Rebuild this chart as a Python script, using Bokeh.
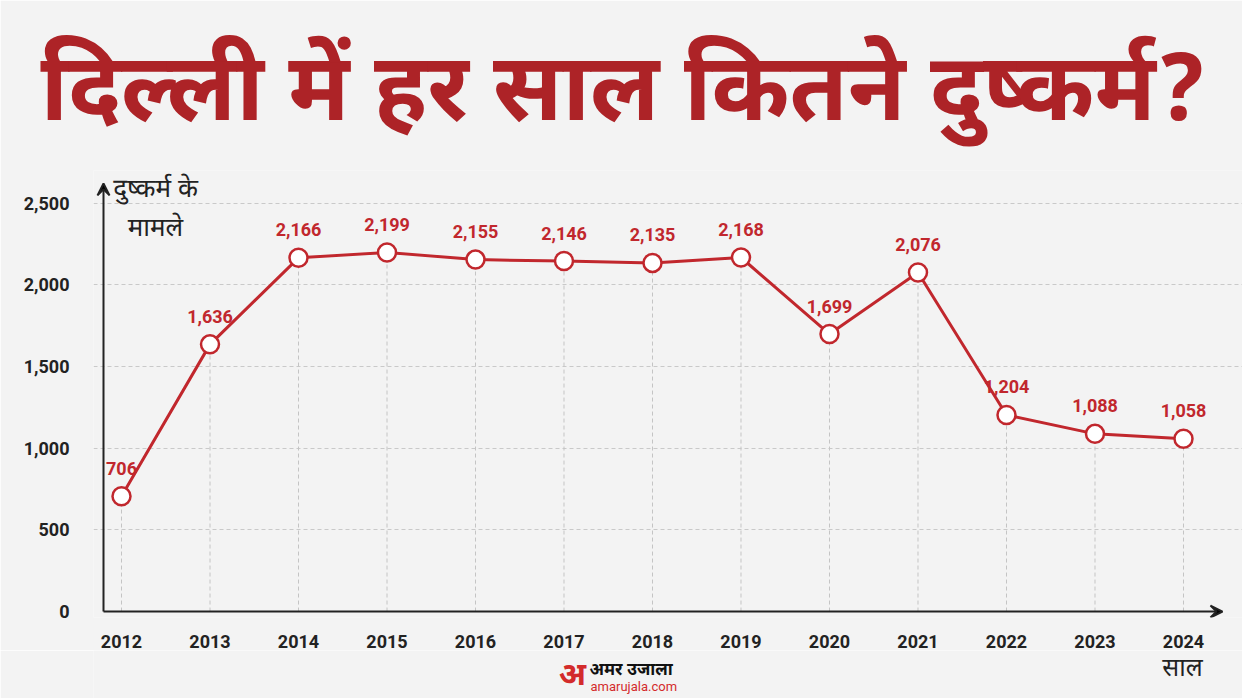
from bokeh.plotting import figure
from bokeh.layouts import column
from bokeh.models import (Label, Arrow, VeeHead, NumeralTickFormatter, FixedTicker,
                          ColumnDataSource, Range1d)
from bokeh.core.properties import value
from bokeh.embed import file_html
from bokeh.resources import INLINE

# ---- data ----
years = [2012, 2013, 2014, 2015, 2016, 2017, 2018, 2019, 2020, 2021, 2022, 2023, 2024]
cases = [706, 1636, 2166, 2199, 2155, 2146, 2135, 2168, 1699, 2076, 1204, 1088, 1058]
y_ticks = [0, 500, 1000, 1500, 2000, 2500]
title_text = "दिल्ली में हर साल कितने दुष्कर्म?"
y_title = ["दुष्कर्म के", "मामले"]
x_title = "साल"

BG = "#f3f3f3"
RED = "#c1272d"
DARK = "#222222"
DEV = "Noto Sans Devanagari, Noto Sans, sans-serif"
NUM = "Roboto"

labels = [f"{v:,}" for v in cases]
src = ColumnDataSource(dict(x=years, y=cases, lab=labels, zero=[0] * len(years)))

# ranges (frame slightly larger than the axes so the arrows are not clipped)
x_start, x_end = 2011.6836, 2024.6667
y_start, y_end = -36.5, 2700.7
ax_x = 2011.7966          # where the y-axis arrow sits
x_arrow_end = 2024.4407
y_arrow_end = 2621.7

p = figure(width=1242, height=650, output_backend="svg", toolbar_location=None,
           x_range=Range1d(x_start, x_end), y_range=Range1d(y_start, y_end),
           min_border_left=93, min_border_right=0, min_border_top=170, min_border_bottom=30)
p.background_fill_color = BG
p.border_fill_color = BG
p.outline_line_color = None

# title
p.title.text = title_text
p.title.align = "left"
p.title.offset = -53
p.title.text_font = DEV
p.title.text_font_style = "bold"
p.title.text_font_size = "94px"
p.title.text_color = "#ad2327"
p.title.standoff = 26

# grids
p.xgrid.grid_line_color = None
p.ygrid.grid_line_color = "#c9c9c9"
p.ygrid.grid_line_dash = "4 3"
p.ygrid.grid_line_width = 1
p.ygrid.ticker = FixedTicker(ticks=y_ticks[1:])
p.ygrid.bounds = (ax_x, 2024.2)

# axes
for ax in (p.xaxis[0], p.yaxis[0]):
    ax.axis_line_color = None
    ax.major_tick_line_color = None
    ax.minor_tick_line_color = None
    ax.major_label_text_font = NUM
    ax.major_label_text_font_style = "bold"
    ax.major_label_text_font_size = "18px"
    ax.major_label_text_color = DARK
    ax.major_label_text_line_height = 1.0
p.xaxis.ticker = FixedTicker(ticks=years)
p.xaxis.major_label_standoff = 11
p.yaxis.ticker = FixedTicker(ticks=y_ticks)
p.yaxis.formatter = NumeralTickFormatter(format="0,0")
p.yaxis.major_label_standoff = 18

# vertical dashed drop lines
p.segment(x0="x", y0="zero", x1="x", y1="y", source=src,
          line_color="#c4c4c4", line_dash="4 3", line_width=1)

# axis arrows
p.add_layout(Arrow(end=VeeHead(size=12, line_color=DARK, line_width=2),
                   x_start=ax_x, y_start=0, x_end=ax_x, y_end=y_arrow_end,
                   line_color=DARK, line_width=2))
p.add_layout(Arrow(end=VeeHead(size=12, line_color=DARK, line_width=2),
                   x_start=ax_x, y_start=0, x_end=x_arrow_end, y_end=0,
                   line_color=DARK, line_width=2))

# series
p.line(x="x", y="y", source=src, line_color=RED, line_width=3)
p.scatter(x="x", y="y", source=src, size=18, fill_color="white",
          line_color=RED, line_width=2.5)
p.text(x="x", y="y", text="lab", source=src, y_offset=-28,
       text_align="center", text_baseline="middle",
       text_font=value(NUM), text_font_style="bold", text_font_size="18px",
       text_color=RED)

# y-axis title (inside the frame, screen units relative to frame)
p.add_layout(Label(x=62, y=427, x_units="screen", y_units="screen", text=y_title[0],
                   text_align="center", text_baseline="middle",
                   text_font=DEV, text_font_size="26px", text_color=DARK))
p.add_layout(Label(x=62, y=388, x_units="screen", y_units="screen", text=y_title[1],
                   text_align="center", text_baseline="middle",
                   text_font=DEV, text_font_size="26px", text_color=DARK))

# bottom strip: x-axis word and logo (frame aligned with the chart frame: 93..1242 px)
s = figure(width=1242, height=48, output_backend="svg", toolbar_location=None,
           x_range=Range1d(93, 1242), y_range=Range1d(0, 48),
           min_border=0, x_axis_type=None, y_axis_type=None)
s.background_fill_color = BG
s.border_fill_color = BG
s.outline_line_color = None
s.grid.visible = False

s.add_layout(Label(x=1182, y=29, text=x_title, text_align="center", text_baseline="middle",
                   text_font=DEV, text_font_size="25px", text_color=DARK))
s.add_layout(Label(x=572, y=22, text="अ", text_align="center", text_baseline="middle",
                   text_font=DEV, text_font_style="bold", text_font_size="32px",
                   text_color="#d32b2b"))
s.add_layout(Label(x=589, y=28, text="अमर उजाला", text_align="left", text_baseline="middle",
                   text_font=DEV, text_font_style="bold", text_font_size="17px",
                   text_color="#111111"))
s.add_layout(Label(x=590, y=12, text="amarujala.com", text_align="left", text_baseline="middle",
                   text_font="Roboto", text_font_size="13px", text_color="#d32b2b"))

layout = column(p, s, spacing=0)
open("out.html", "w").write(file_html(layout, INLINE))
